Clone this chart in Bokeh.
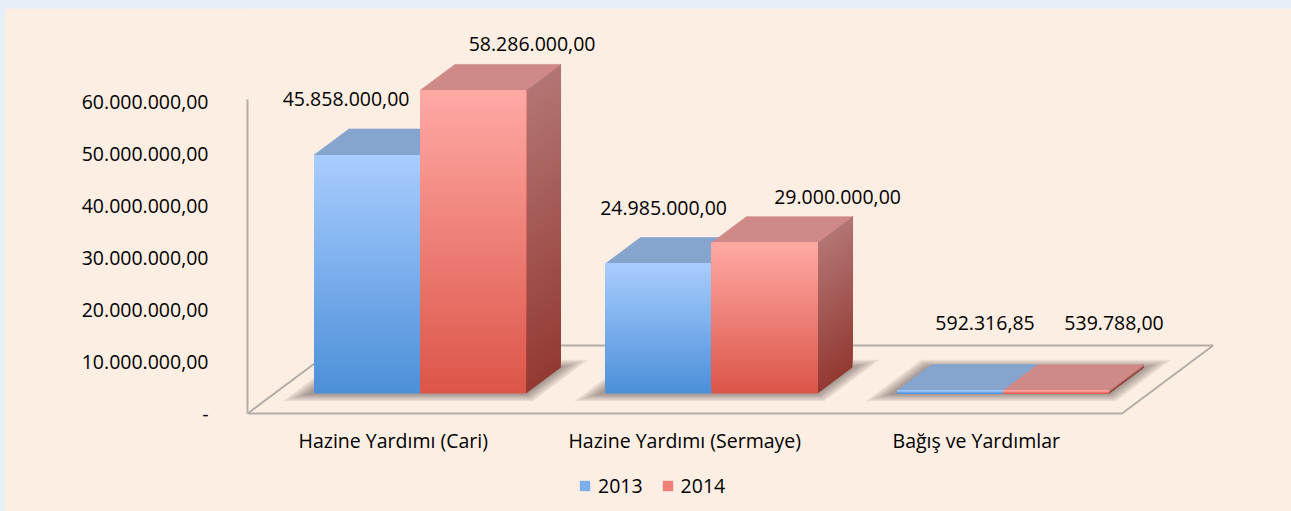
from bokeh.plotting import figure
from bokeh.models import Range1d, FixedTicker, ColumnDataSource, Legend, LegendItem
from bokeh.core.properties import value
from bokeh.embed import file_html
from bokeh.resources import INLINE

# ---------------- data ----------------
categories = ["Hazine Yardımı (Cari)", "Hazine Yardımı (Sermaye)", "Bağış ve Yardımlar"]
series_names = ["2013", "2014"]
values_2013 = [45858000.00, 24985000.00, 592316.85]
values_2014 = [58286000.00, 29000000.00, 539788.00]
y_ticks = [0, 10000000, 20000000, 30000000, 40000000, 50000000, 60000000]


def tr_fmt(v):
    s = f"{v:,.2f}"
    return s.replace(",", "X").replace(".", ",").replace("X", ".")


y_tick_labels = {t: ("-" if t == 0 else tr_fmt(t)) for t in y_ticks}

# ---------------- geometry / style ----------------
W, H = 1287, 503           # figure placed at page (4, 8)
FRAME_L = 243
FRAME_W, FRAME_H = W - FRAME_L, H
ZERO_FROM_TOP = 405        # px from frame top to the value 0 (floor front edge)
CAT_PX = 291.5             # px per category
PX_PER_UNIT_Y = 5.2e-6     # px per value unit
UPY = 1.0 / PX_PER_UNIT_Y
SLANT = 1.34               # horizontal px per px of depth
K0, K1, KF = 20, 46, 68    # bar front depth, bar back depth, floor back depth (px)
BAR_W = 106 / CAT_PX
N = 60

BG = "#FDEEE3"
OUTER = "#E6EEF8"
FONT = "Open Sans"
FS = "19.5px"
GRID_C = "#B3ADA8"

col = {
    "front": [("#4B8FD8", "#A9CDFF"), ("#DC5548", "#FFA9A5")],
    "top": ["#86A5CE", "#CF8A87"],
    "side": [("#7A9CC8", "#8FAED8"), ("#933A32", "#B37574")],
}
LABEL_DY = [56, 46]                          # px above bar front top
LABEL_NUDGE_X = [[-21, 5, 35], [59, 73, 58]]  # px, label nudges per series
LABEL_MIN_ABOVE_FLOOR = 23                   # px above floor back edge


def off(k):
    return (k * SLANT / CAT_PX, k * UPY)


def lerp(c0, c1, t):
    a = [int(c0[i:i + 2], 16) for i in (1, 3, 5)]
    b = [int(c1[i:i + 2], 16) for i in (1, 3, 5)]
    return "#%02x%02x%02x" % tuple(int(round(a[i] + (b[i] - a[i]) * t)) for i in range(3))


p = figure(width=W, height=H, output_backend="svg", toolbar_location=None,
           x_axis_location=None,
           x_range=Range1d(-0.5, -0.5 + FRAME_W / CAT_PX),
           y_range=Range1d(-(FRAME_H - ZERO_FROM_TOP) * UPY, ZERO_FROM_TOP * UPY),
           min_border_left=FRAME_L, min_border_right=0, min_border_top=0,
           min_border_bottom=0)
p.background_fill_color = BG
p.border_fill_color = BG
p.outline_line_color = None
p.grid.visible = False

# y axis
ya = p.yaxis[0]
ya.ticker = FixedTicker(ticks=y_ticks)
ya.major_label_overrides = y_tick_labels
ya.bounds = (0, 60.4e6)
ya.axis_line_color = GRID_C
ya.axis_line_width = 2
ya.major_tick_line_color = None
ya.minor_tick_line_color = None
ya.major_tick_out = 0
ya.major_label_standoff = 39
ya.major_label_text_font = FONT
ya.major_label_text_font_size = FS
ya.major_label_text_color = "#000000"

# floor outline
fdx, fdy = off(KF)
x0f, x1f = -0.5, len(categories) - 0.5
p.line([x0f, x0f + fdx, x1f + fdx, x1f, x0f], [0, fdy, fdy, 0, 0],
       line_color=GRID_C, line_width=2)

# category labels
p.text(x=list(range(len(categories))), y=[0] * len(categories), text=categories,
       y_offset=27, text_align="center", text_baseline="middle",
       text_font=value(FONT), text_font_size=FS, text_color="#000000")

# soft shadows on the floor
sh_xs, sh_ys = [], []
for i in range(len(categories)):
    for e in [2, 5, 8, 11, 14, 17]:
        xl = i - BAR_W - e / CAT_PX - 4 / CAT_PX
        xr = i + BAR_W + e / CAT_PX
        ka, kb = K0 - e * 0.45, K1 + e * 0.45
        ax, ay = off(ka)
        bx, by = off(kb)
        sh_xs.append([xl + ax, xr + ax, xr + bx, xl + bx])
        sh_ys.append([ay, ay, by, by])
p.patches(sh_xs, sh_ys, fill_color="#3a3030", fill_alpha=0.09, line_color=None)

dx0, dy0 = off(K0)
ddx, ddy = off(K1 - K0)
series_vals = [values_2013, values_2014]
front_renderers = []

for j, vals in enumerate(series_vals):
    t_xs, t_ys = [], []
    s_xs, s_ys, s_c = [], [], []
    f = dict(left=[], right=[], bottom=[], top=[], color=[])
    for i, v in enumerate(vals):
        xl = i + dx0 + (j - 1) * BAR_W
        xr = xl + BAR_W
        top = dy0 + v
        t_xs.append([xl, xr, xr + ddx, xl + ddx])
        t_ys.append([top, top, top + ddy, top + ddy])
        # gradient: each strip spans from its own start up to the top, drawn bottom-up
        for s in range(N):
            ya0 = dy0 + v * s / N
            t = (s + 0.5) / N
            f["left"].append(xl)
            f["right"].append(xr)
            f["bottom"].append(ya0)
            f["top"].append(top)
            f["color"].append(lerp(col["front"][j][0], col["front"][j][1], t))
            s_xs.append([xr, xr + ddx, xr + ddx, xr])
            s_ys.append([ya0, ya0 + ddy, top + ddy, top])
            s_c.append(lerp(col["side"][j][0], col["side"][j][1], t))
    if j == 1:
        p.patches(s_xs, s_ys, fill_color=s_c, line_color=None)
    p.patches(t_xs, t_ys, fill_color=col["top"][j], line_color=col["top"][j], line_width=0.6)
    r = p.quad(left="left", right="right", bottom="bottom", top="top",
               fill_color="color", line_color=None,
               source=ColumnDataSource(f))
    front_renderers.append(r)

# value labels
lx, ly, lt = [], [], []
for j, vals in enumerate(series_vals):
    for i, v in enumerate(vals):
        xc = i + dx0 + (j - 0.5) * BAR_W
        lx.append(xc + LABEL_NUDGE_X[j][i] / CAT_PX)
        ly.append(max(dy0 + v + LABEL_DY[j] * UPY, fdy + LABEL_MIN_ABOVE_FLOOR * UPY))
        lt.append(tr_fmt(v))
p.text(x=lx, y=ly, text=lt, text_align="center", text_baseline="middle",
       text_font=value(FONT), text_font_size=FS, text_color="#000000")

legend = Legend(items=[LegendItem(label=value(series_names[j]), renderers=[front_renderers[j]], index=N // 2)
                       for j in range(2)],
                orientation="horizontal", location=(331, 12),
                glyph_width=13, glyph_height=13, label_standoff=7, spacing=18,
                padding=0, margin=0, border_line_color=None, background_fill_alpha=0,
                label_text_font=FONT, label_text_font_size=FS, label_text_color="#000000")
p.add_layout(legend)

html = file_html(p, INLINE)
html = html.replace("</head>",
                    "<style>html, body { background-color: %s; } body { padding: 8px 0 0 4px; }</style></head>" % OUTER, 1)
open("out.html", "w").write(html)
